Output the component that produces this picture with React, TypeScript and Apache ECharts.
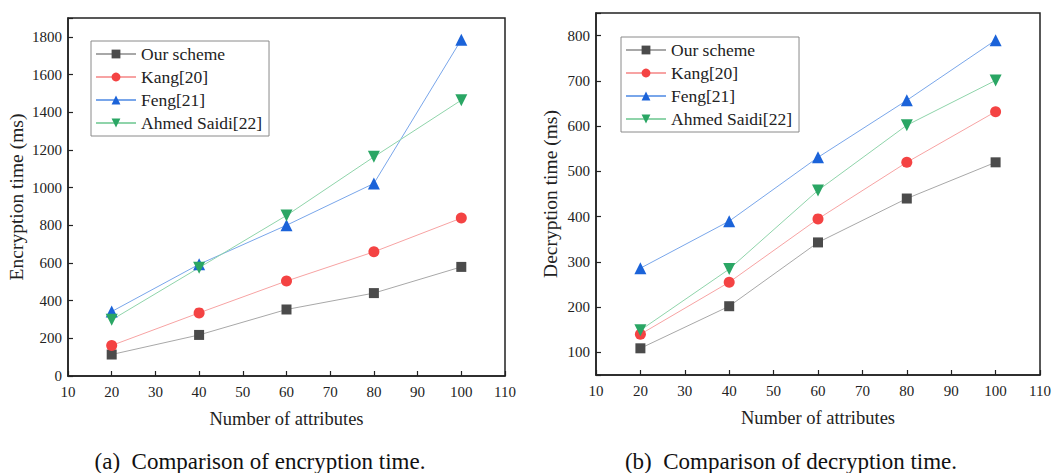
import React, { useEffect, useRef } from "react";
import * as echarts from "echarts";

const xValues = [20, 40, 60, 80, 100];
const seriesNames = ["Our scheme", "Kang[20]", "Feng[21]", "Ahmed Saidi[22]"];
const encOurs = [114, 218, 353, 440, 579];
const encKang = [162, 335, 504, 659, 838];
const encFeng = [342, 593, 800, 1022, 1785];
const encAhmed = [298, 575, 852, 1163, 1464];
const decOurs = [109, 202, 343, 440, 520];
const decKang = [140, 255, 395, 520, 632];
const decFeng = [286, 390, 531, 657, 790];
const decAhmed = [149, 284, 458, 602, 701];
const captionA = "(a)  Comparison of encryption time.";
const captionB = "(b)  Comparison of decryption time.";

const FONT = "Liberation Serif";
const markerColors = ["#4b4b4b", "#f44343", "#1b63d9", "#2aa664"];
const lineColors = ["#a8a8a8", "#f7a3a3", "#79a6ea", "#8fd4aa"];
const symbols = ["rect", "circle", "triangle", "path://M0,0 L10,0 L5,9 Z"];
const symbolSizes = [10, 11, 12, 12];

export default function App() {
  const ref = useRef<HTMLDivElement>(null);
  useEffect(() => {
    if (!ref.current) return;
    const chart = echarts.init(ref.current, null, { renderer: "svg" });
    const mk = (data: number[], i: number, idx: number) => ({
      name: seriesNames[i],
      type: "line",
      xAxisIndex: idx,
      yAxisIndex: idx,
      data: xValues.map((x, k) => [x, data[k]]),
      symbol: symbols[i],
      symbolSize: symbolSizes[i],
      itemStyle: { color: markerColors[i] },
      lineStyle: { color: lineColors[i], width: 1 },
      z: 3,
    });
    const axisCommon = {
      axisLine: { show: true, lineStyle: { color: "#222", width: 1.5 } },
      axisTick: { show: true, inside: true, length: 5, lineStyle: { color: "#222", width: 1.2 } },
      splitLine: { show: false },
    };
    const xAxis = (gi: number) => ({
      ...axisCommon,
      type: "value",
      gridIndex: gi,
      min: 10,
      max: 110,
      interval: 10,
      name: "Number of attributes",
      nameLocation: "middle",
      nameGap: 33,
      nameTextStyle: { fontFamily: FONT, fontSize: 18.5, color: "#222" },
      axisLabel: { fontFamily: FONT, fontSize: 15, color: "#222", margin: 8 },
    });
    const legend = (left: number, top: number) => ({
      data: seriesNames,
      orient: "vertical",
      left,
      top,
      itemWidth: 40,
      itemHeight: 11,
      itemGap: 5,
      padding: [4, 7, 4, 4],
      borderColor: "#8a8a8a",
      borderWidth: 1,
      backgroundColor: "#fff",
      textStyle: { fontFamily: FONT, fontSize: 17.5, color: "#222" },
    });
    chart.setOption({
      animation: false,
      backgroundColor: "#fff",
      grid: [
        { left: 68, top: 18, width: 437, height: 358, show: true, borderColor: "#222", borderWidth: 1.5 },
        { left: 596, top: 13, width: 444, height: 362, show: true, borderColor: "#222", borderWidth: 1.5 },
      ],
      legend: [legend(91, 41), legend(621, 37)],
      xAxis: [xAxis(0), xAxis(1)],
      yAxis: [
        {
          ...axisCommon,
          type: "value",
          gridIndex: 0,
          min: 0,
          max: 1900,
          interval: 200,
          name: "Encryption time (ms)",
          nameLocation: "middle",
          nameGap: 42,
          nameTextStyle: { fontFamily: FONT, fontSize: 19.5, color: "#222" },
          axisLabel: {
            fontFamily: FONT,
            fontSize: 15,
            color: "#222",
            margin: 6,
            formatter: (v: number) => (v % 200 === 0 ? String(v) : ""),
          },
        },
        {
          ...axisCommon,
          type: "value",
          gridIndex: 1,
          min: 50,
          max: 850,
          splitNumber: 8,
          name: "Decryption time (ms)",
          nameLocation: "middle",
          nameGap: 36,
          nameTextStyle: { fontFamily: FONT, fontSize: 19.5, color: "#222" },
          axisLabel: {
            fontFamily: FONT,
            fontSize: 15,
            color: "#222",
            margin: 6,
            formatter: (v: number) => (v % 100 === 0 ? String(v) : ""),
          },
        },
      ],
      graphic: [
        {
          type: "text",
          x: 260,
          y: 461,
          style: { text: captionA, fontFamily: FONT, fontSize: 23, fill: "#111", align: "center", verticalAlign: "middle" },
        },
        {
          type: "text",
          x: 791,
          y: 461,
          style: { text: captionB, fontFamily: FONT, fontSize: 23, fill: "#111", align: "center", verticalAlign: "middle" },
        },
      ],
      series: [
        mk(encOurs, 0, 0),
        mk(encKang, 1, 0),
        mk(encFeng, 2, 0),
        mk(encAhmed, 3, 0),
        mk(decOurs, 0, 1),
        mk(decKang, 1, 1),
        mk(decFeng, 2, 1),
        mk(decAhmed, 3, 1),
      ],
    });
    return () => chart.dispose();
  }, []);
  return (
    <div
      ref={ref}
      style={{ position: "fixed", left: 0, top: 0, width: 1059, height: 473 }}
    />
  );
}
